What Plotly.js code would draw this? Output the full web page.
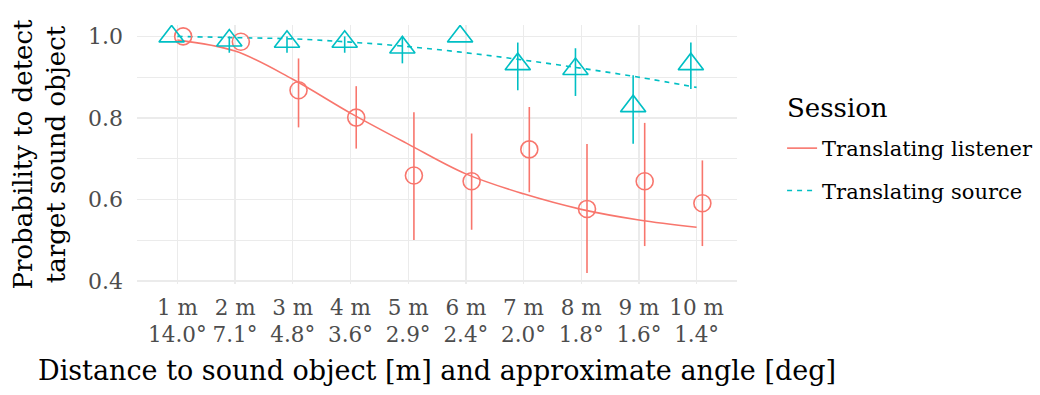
<!DOCTYPE html>
<html>
<head>
<meta charset="utf-8">
<script src="https://cdn.plot.ly/plotly-3.0.1.min.js"></script>
<style>html,body{margin:0;padding:0;background:#fff;}#chart{width:1040px;height:395px;}</style>
</head>
<body>
<div id="chart"></div>
<script>
// Categories and tick labels
const distances = [1, 2, 3, 4, 5, 6, 7, 8, 9, 10];
const tickLabels = ["1 m<br>14.0°", "2 m<br>7.1°", "3 m<br>4.8°", "4 m<br>3.6°", "5 m<br>2.9°",
                    "6 m<br>2.4°", "7 m<br>2.0°", "8 m<br>1.8°", "9 m<br>1.6°", "10 m<br>1.4°"];

// Translating listener: observed means and error-bar bounds
const listenerMean  = [1.000, 0.987, 0.868, 0.801, 0.659, 0.645, 0.723, 0.577, 0.645, 0.591];
const listenerUpper = [1.000, 0.987, 0.946, 0.878, 0.814, 0.762, 0.827, 0.736, 0.788, 0.696];
const listenerLower = [1.000, 0.987, 0.777, 0.725, 0.501, 0.526, 0.618, 0.420, 0.486, 0.486];
// Translating listener: fitted curve
const listenerFit   = [0.991, 0.964, 0.895, 0.812, 0.736, 0.663, 0.614, 0.576, 0.550, 0.532];

// Translating source: observed means and error-bar bounds
const sourceMean  = [1.000, 0.990, 0.987, 0.987, 0.973, 1.000, 0.932, 0.920, 0.829, 0.932];
const sourceUpper = [1.000, 1.000, 1.000, 1.000, 1.000, 1.000, 0.985, 0.971, 0.905, 0.985];
const sourceLower = [1.000, 0.960, 0.960, 0.960, 0.934, 1.000, 0.868, 0.854, 0.737, 0.871];
// Translating source: fitted curve
const sourceFit   = [1.000, 0.997, 0.994, 0.986, 0.975, 0.960, 0.942, 0.922, 0.900, 0.875];

const legendTitle = "Session";

const RED = "#F8766D", CYAN = "#00BFC4";
const FONT = "DejaVu Serif";
const dodge = 0.1;

const xL = distances.map(d => d + dodge);
const xS = distances.map(d => d - dodge);

const traces = [
  {
    x: distances, y: listenerFit, type: "scatter", mode: "lines",
    line: {color: RED, width: 1.6, shape: "spline"},
    name: "Translating listener", legendgroup: "a", showlegend: true, hoverinfo: "skip"
  },
  {
    x: distances, y: sourceFit, type: "scatter", mode: "lines",
    line: {color: CYAN, width: 1.6, dash: "5px,5px", shape: "spline"},
    name: "Translating source", legendgroup: "b", showlegend: true, hoverinfo: "skip"
  },
  {
    x: xL, y: listenerMean, type: "scatter", mode: "markers",
    marker: {symbol: "circle-open", size: 17, color: RED, line: {width: 1.6, color: RED}},
    error_y: {type: "data", symmetric: false,
      array: listenerUpper.map((u, i) => u - listenerMean[i]),
      arrayminus: listenerMean.map((m, i) => m - listenerLower[i]),
      color: RED, thickness: 1.6, width: 0},
    showlegend: false, legendgroup: "a"
  },
  {
    x: xS, y: sourceMean, type: "scatter", mode: "markers",
    marker: {symbol: "triangle-up-open", size: 22, color: CYAN, line: {width: 1.6, color: CYAN}},
    error_y: {type: "data", symmetric: false,
      array: sourceUpper.map((u, i) => u - sourceMean[i]),
      arrayminus: sourceMean.map((m, i) => m - sourceLower[i]),
      color: CYAN, thickness: 1.6, width: 0},
    showlegend: false, legendgroup: "b"
  }
];

const layout = {
  width: 1040, height: 395,
  margin: {l: 137, r: 303, t: 25, b: 111},
  paper_bgcolor: "#fff", plot_bgcolor: "#fff",
  font: {family: FONT, color: "#000"},
  showlegend: true,
  xaxis: {
    range: [0.3, 10.7], tickmode: "array", tickvals: distances, ticktext: tickLabels,
    showgrid: true, gridcolor: "#EBEBEB", gridwidth: 1.3, zeroline: false, showline: false,
    ticks: "", ticklabelstandoff: 8, tickfont: {family: FONT, size: 21.5, color: "#4D4D4D"},
    title: {text: "Distance to sound object [m] and approximate angle [deg]",
            font: {family: FONT, size: 27, color: "#000"}, standoff: 14}
  },
  yaxis: {
    range: [0.393, 1.028], tickmode: "array", tickvals: [0.4, 0.6, 0.8, 1.0],
    ticktext: ["0.4", "0.6", "0.8", "1.0"],
    showgrid: true, gridcolor: "#EBEBEB", gridwidth: 1.3, zeroline: false, showline: false,
    minor: {tickvals: [0.5, 0.7, 0.9], showgrid: true, gridcolor: "#EBEBEB", gridwidth: 1.3, ticks: ""},
    ticks: "", ticklabelstandoff: 13, tickfont: {family: FONT, size: 22, color: "#4D4D4D"},
    title: {text: "Probability to detect<br>target sound object",
            font: {family: FONT, size: 26, color: "#000"}, standoff: 14}
  },
  annotations: [{
    text: legendTitle, xref: "paper", yref: "paper", x: 1.08, y: 0.68,
    xanchor: "left", yanchor: "middle", showarrow: false,
    font: {family: FONT, size: 26, color: "#000"}
  }],
  legend: {
    xref: "container", yref: "container",
    x: 0.752, xanchor: "left", y: 0.676, yanchor: "top",
    traceorder: "grouped", tracegroupgap: 12,
    font: {family: FONT, size: 21, color: "#000"},
    bgcolor: "rgba(0,0,0,0)", itemwidth: 30
  }
};

Plotly.newPlot("chart", traces, layout, {displayModeBar: false, staticPlot: true});
</script>
</body>
</html>
